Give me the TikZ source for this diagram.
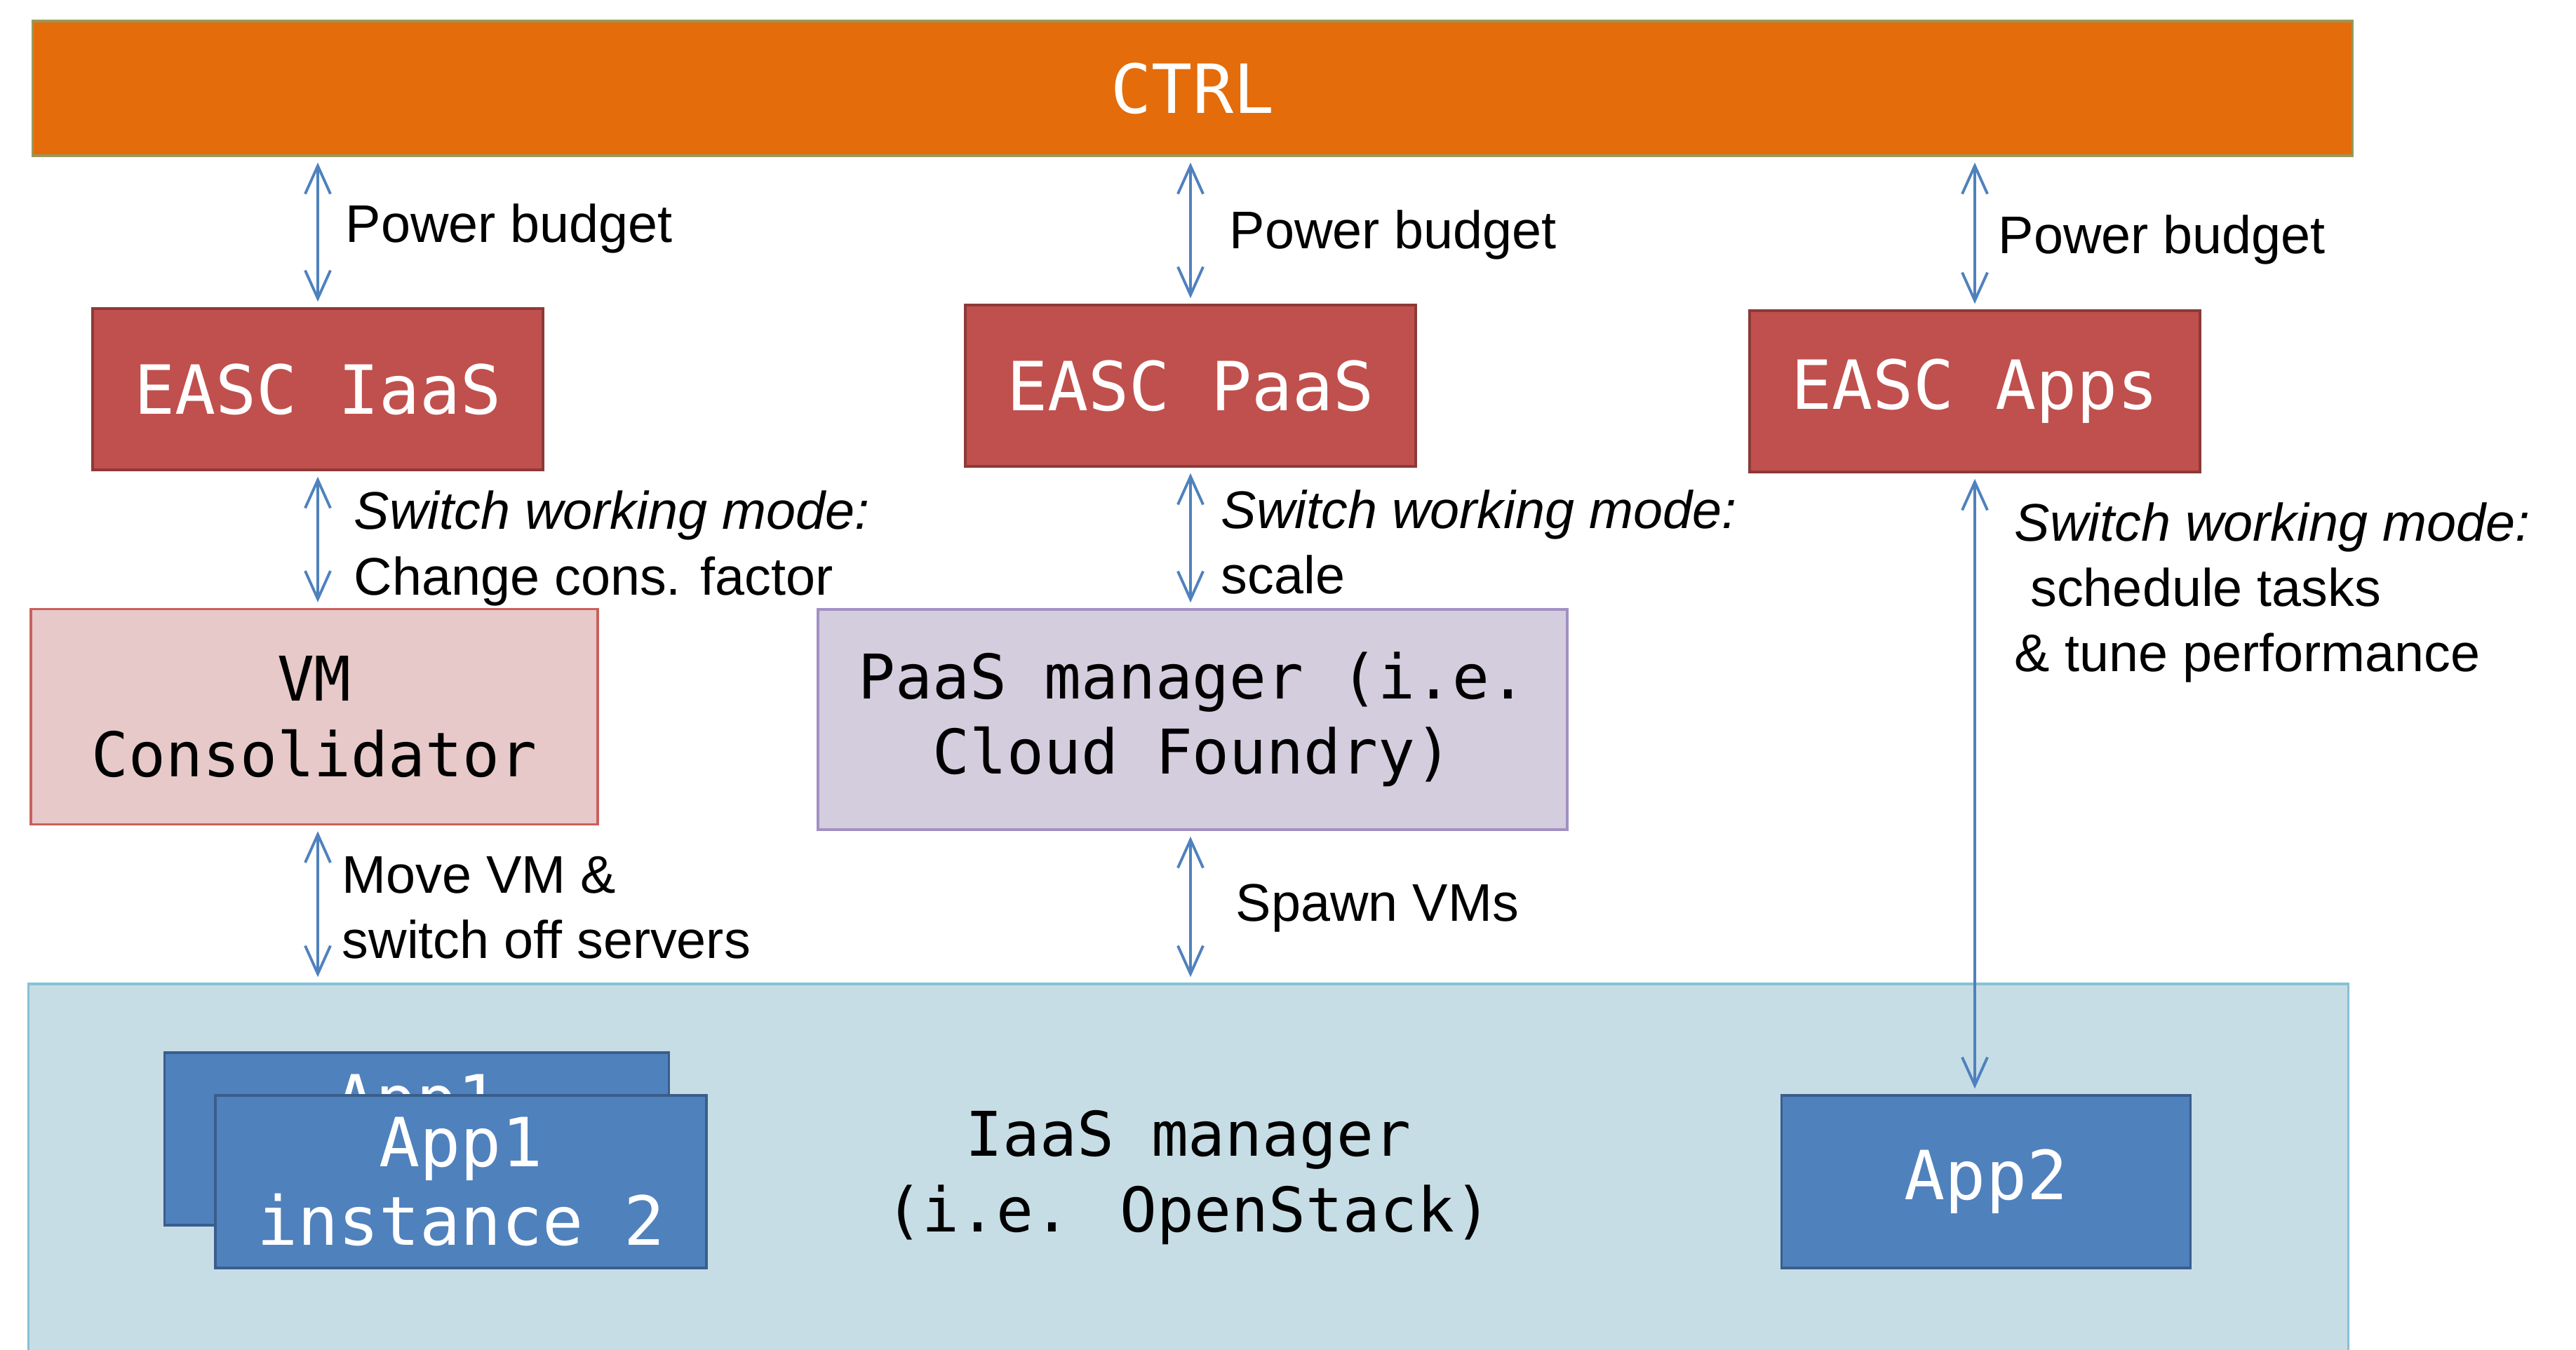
\documentclass[tikz,border=0pt]{standalone}
\usepackage{fontspec}
\setmainfont{Liberation Sans}
\newfontfamily\boxfont{DejaVu Sans Mono}
\usepackage{xcolor}
\usetikzlibrary{arrows.meta}

\definecolor{ctrlorange}{HTML}{E46C0A}
\definecolor{ctrlline}{HTML}{98985A}
\definecolor{eascred}{HTML}{C0504D}
\definecolor{eascline}{HTML}{8C3A38}
\definecolor{vmfill}{HTML}{E6C9C8}
\definecolor{vmline}{HTML}{C9605D}
\definecolor{paasfill}{HTML}{D4CDDE}
\definecolor{paasline}{HTML}{A290C4}
\definecolor{iaasfill}{HTML}{C7DDE5}
\definecolor{iaasline}{HTML}{86C1D4}
\definecolor{appfill}{HTML}{4F81BD}
\definecolor{appline}{HTML}{3A5E8C}
\definecolor{linkblue}{HTML}{4F81BD}

\begin{document}
\begin{tikzpicture}[
    ctrlbox/.style={rectangle, draw=ctrlline, line width=1pt, fill=ctrlorange, text=white, minimum width=33.07cm, minimum height=1.92cm, font=\boxfont\fontsize{27.5}{32}\selectfont},
    easc/.style={rectangle, draw=eascline, line width=1pt, fill=eascred, text=white, minimum width=6.42cm, minimum height=2.3cm, font=\boxfont\fontsize{27.5}{32}\selectfont},
    mgr/.style={rectangle, line width=1pt, align=center, font=\boxfont\fontsize{25}{30.5}\selectfont},
    app/.style={rectangle, draw=appline, line width=1pt, fill=appfill, text=white, minimum height=2.46cm, align=center, font=\boxfont\fontsize{27.5}{32}\selectfont},
    lbl/.style={inner sep=0pt, anchor=west, align=left, font=\fontsize{21.5}{26.5}\selectfont},
    link/.style={{Straight Barb[length=4mm,width=3.6mm]}-{Straight Barb[length=4mm,width=3.6mm]}, line width=1.1pt, draw=linkblue, shorten <=0.08cm, shorten >=0.08cm}
]
\useasboundingbox (0,0) rectangle (36.72,-19.24);

% top controller
\node[ctrlbox] (ctrl) at (17.00,-1.26) {CTRL};

% EASC controllers
\node[easc] (easciaas) at (4.53,-5.55)  {EASC IaaS};
\node[easc] (eascpaas) at (16.97,-5.50) {EASC PaaS};
\node[easc] (eascapps) at (28.15,-5.58) {EASC Apps};

% managers
\node[mgr, draw=vmline, fill=vmfill, minimum width=8.08cm, minimum height=3.07cm] (vm) at (4.48,-10.22) {VM\\Consolidator};
\node[mgr, draw=paasline, fill=paasfill, minimum width=10.68cm, minimum height=3.14cm] (paas) at (17.00,-10.26) {PaaS manager (i.e.\\Cloud Foundry)};
\node[mgr, draw=iaasline, fill=iaasfill, minimum width=33.07cm, minimum height=5.52cm] (iaas) at (16.94,-16.79) {IaaS manager\\(i.e. OpenStack)};

% applications
\node[app, minimum width=7.19cm] (appback) at (5.94,-16.24) {App1\\\phantom{instance 1}};
\node[app, minimum width=7.00cm] (app1) at (6.57,-16.85) {App1\\instance 2};
\node[app, minimum width=5.83cm] (app2) at (28.31,-16.85) {App2};

% links
\draw[link] (ctrl.south -| easciaas.north) -- (easciaas.north);
\draw[link] (ctrl.south -| eascpaas.north) -- (eascpaas.north);
\draw[link] (ctrl.south -| eascapps.north) -- (eascapps.north);
\draw[link] (easciaas.south) -- (easciaas.south |- vm.north);
\draw[link] (eascpaas.south) -- (eascpaas.south |- paas.north);
\draw[link] (eascapps.south) -- (eascapps.south |- app2.north);
\draw[link] (vm.south -| easciaas.south) -- (easciaas.south |- iaas.north);
\draw[link] (paas.south -| eascpaas.south) -- (eascpaas.south |- iaas.north);

% labels
\node[lbl] (pb1) at (4.92,-3.26) {Power budget};
\node[lbl] (pb2) at (17.52,-3.35) {Power budget};
\node[lbl] (pb3) at (28.48,-3.42) {Power budget};
\node[lbl] (sw1) at (5.04,-7.82) {\textit{Switch working mode:}\\Change cons. factor};
\node[lbl] (sw2) at (17.40,-7.73) {\textit{Switch working mode:}\\scale};
\node[lbl] (sw3) at (28.71,-8.45) {\textit{Switch working mode:}\\\hspace*{0.3em}schedule tasks\\\& tune performance};
\node[lbl] (mv) at (4.87,-12.94) {Move VM \&\\switch off servers};
\node[lbl] (spawn) at (17.61,-12.95) {Spawn VMs};
\end{tikzpicture}
\end{document}
